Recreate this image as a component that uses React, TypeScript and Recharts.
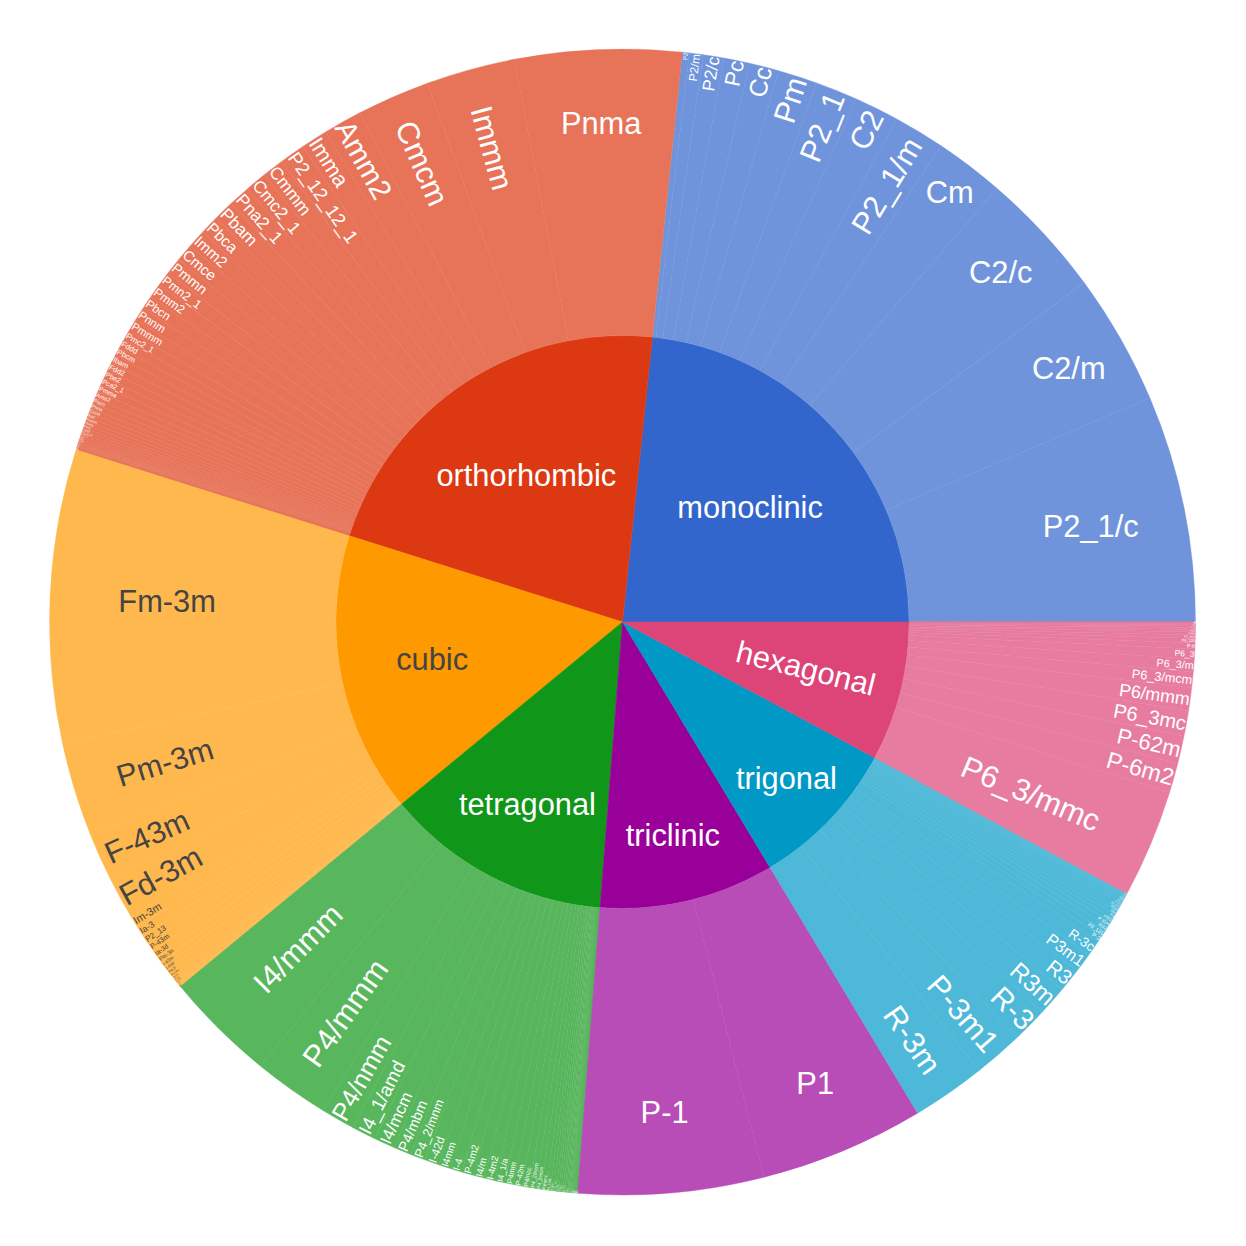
import React from 'react';
import { PieChart, Pie, Cell } from 'recharts';

// ---- crystal systems (inner ring), in drawing order (counter-clockwise from 3 o'clock)
const systems = ['monoclinic', 'orthorhombic', 'cubic', 'tetragonal', 'triclinic', 'trigonal', 'hexagonal'];
const systemColors = ['#3366CC', '#DC3912', '#FF9900', '#109618', '#990099', '#0099C6', '#DD4477'];
const systemTextColors = ['#ffffff', '#ffffff', '#444444', '#ffffff', '#ffffff', '#ffffff', '#ffffff'];

// ---- space groups (outer ring) and their counts
const monoclinicGroups = ['P2_1/c', 'C2/m', 'C2/c', 'Cm', 'P2_1/m', 'C2', 'P2_1', 'Pm', 'Cc', 'Pc', 'P2/c', 'P2/m', 'P2'];
const monoclinicCounts = [2300, 1330, 1290, 700, 520, 450, 430, 400, 300, 260, 210, 140, 70];

const orthorhombicGroups = ['Pnma', 'Immm', 'Cmcm', 'Amm2', 'Imma', 'P2_12_12_1', 'Cmmm', 'Cmc2_1', 'Pna2_1', 'Pbam',
  'Pbca', 'Imm2', 'Cmce', 'Pmmn', 'Pmn2_1', 'Pmm2', 'Pbcn', 'Pnnm', 'Pmmm', 'Pmc2_1',
  'Fddd', 'Pbcm', 'Ibam', 'Fdd2', 'Pba2', 'Pca2_1', 'Pmma', 'Ama2', 'Pccn',
  'Pnna', 'Cccm', 'Iba2', 'Fmmm', 'Pmna', 'Pnn2', 'Cmm2', 'P2_12_12', 'C222_1', 'Ibca',
  'Ccce', 'Cmme', 'Pcca', 'Pccm', 'Pban', 'Pnnn', 'Pma2', 'Pnc2', 'Pcc2', 'Aea2',
  'Aem2', 'P222_1', 'I222', 'I2_12_12_1', 'Fmm2'];
const orthorhombicCounts = [1690, 900, 740, 390, 270, 260, 220, 220, 220, 210,
  190, 185, 180, 170, 150, 145, 140, 135, 130, 100,
  90, 90, 85, 85, 80, 80, 75, 65, 60,
  55, 50, 45, 40, 38, 35, 30, 28, 25, 22,
  20, 18, 15, 13, 12, 10, 8, 7, 6, 5,
  4, 3, 2, 2, 2];

const cubicGroups = ['Fm-3m', 'Pm-3m', 'F-43m', 'Fd-3m', 'Im-3m', 'Ia-3', 'P2_13', 'P-43m', 'Ia-3d', 'Pm-3n',
  'I-43m', 'I-43d', 'Pa-3', 'Pn-3m', 'Fd-3', 'F-43c', 'P4_132', 'Pm-3', 'I2_13', 'P23', 'Fm-3c', 'F23', 'I23'];
const cubicCounts = [2977, 960, 480, 420, 130, 105, 95, 85, 75, 65,
  55, 48, 42, 36, 30, 25, 20, 15, 12, 9, 7, 5, 4];

const tetragonalGroups = ['I4/mmm', 'P4/mmm', 'P4/nmm', 'I4_1/amd', 'I4/mcm', 'P4/mbm', 'P4_2/mnm', 'I-42d', 'I4mm', 'I-4',
  'P-4m2', 'I4/m', 'I-4m2', 'I4_1/a', 'P4mm', 'P-42m',
  'P4/ncc', 'P4_2/ncm', 'P4_2/mcm', 'P4/mnc', 'I4_1md', 'P4bm', 'P-42_1m', 'P4_2/n', 'P4/mcc', 'I4_1/acd',
  'P4_2/mbc', 'P-4', 'P4/nnc', 'P4_2/nmc', 'P4_2/m', 'I4', 'P4_2mc', 'I-42m', 'P4_2/nnm', 'I4cm',
  'P4_2nm', 'P-4b2', 'P4/nbm', 'I422', 'P4', 'P4_12_12', 'P-42_1c', 'P4_32_12', 'P422', 'I4_1cd'];
const tetragonalCounts = [1130, 770, 340, 250, 210, 180, 160, 140, 120, 120,
  120, 115, 110, 100, 90, 85,
  75, 65, 55, 50, 40, 32, 28, 25, 22, 20,
  18, 16, 14, 12, 11, 10, 9, 8, 7, 6,
  6, 5, 5, 4, 4, 3, 3, 3, 2, 2];

const triclinicGroups = ['P-1', 'P1'];
const triclinicCounts = [1880, 1670];

const trigonalGroups = ['R-3m', 'P-3m1', 'R-3', 'R3m', 'R3', 'P3m1', 'R-3c',
  'P-3', 'P3_121', 'R32', 'P-31m', 'P321', 'P3', 'R3c', 'P31m', 'P3_221', 'P-3c1',
  'P3_1', 'P312', 'P-31c', 'P3_2', 'P3c1', 'P31c', 'P3_112', 'P3_212'];
const trigonalCounts = [750, 500, 360, 300, 240, 200, 160,
  65, 60, 55, 50, 45, 42, 38, 35, 32, 28,
  25, 22, 18, 15, 12, 10, 5, 3];

const hexagonalGroups = ['P6_3/mmc', 'P-6m2', 'P-62m', 'P6_3mc', 'P6/mmm', 'P6_3/mcm', 'P6_3/m', 'P6_3',
  'P-6', 'P6_322', 'P6_3cm', 'P-62c', 'P6/m', 'P6', 'P6_122', 'P6mm', 'P6/mcc', 'P6_1', 'P6_222', 'P622',
  'P6_5', 'P-6c2', 'P6cc'];
const hexagonalCounts = [1100, 300, 280, 260, 230, 160, 130, 100,
  60, 45, 35, 30, 25, 20, 15, 12, 8, 6, 5, 3, 3, 2, 1];

const groupsBySystem = [monoclinicGroups, orthorhombicGroups, cubicGroups, tetragonalGroups, triclinicGroups, trigonalGroups, hexagonalGroups];
const countsBySystem = [monoclinicCounts, orthorhombicCounts, cubicCounts, tetragonalCounts, triclinicCounts, trigonalCounts, hexagonalCounts];

const innerData = systems.map((name, i) => ({
  name,
  value: countsBySystem[i].reduce((a, b) => a + b, 0),
  sys: i,
}));
const outerData = systems.flatMap((_, i) =>
  groupsBySystem[i].map((g, j) => ({ name: g, value: countsBySystem[i][j], sys: i }))
);

// leaf colour: the system colour at 70% opacity over white
const LEAF_OPACITY = 0.7;
function leafColor(hex: string) {
  const n = parseInt(hex.slice(1), 16);
  const ch = [(n >> 16) & 255, (n >> 8) & 255, n & 255].map((c) =>
    Math.round(c * LEAF_OPACITY + 255 * (1 - LEAF_OPACITY))
  );
  return '#' + ch.map((c) => c.toString(16).padStart(2, '0')).join('');
}
const leafColors = systemColors.map(leafColor);

// ---- text fitting (plotly-like "auto" inside text orientation)
const BASE_FONT = 30.8;
const MIN_FONT = 1;
const FONT_FAMILY = '"Liberation Sans", Arial, sans-serif';
const TEXTPAD = 3;
let measureCtx: any = null;
function measureText(t: string): number {
  if (!measureCtx && typeof document !== 'undefined') {
    const c = document.createElement('canvas');
    measureCtx = c.getContext('2d');
  }
  if (measureCtx) {
    measureCtx.font = `${BASE_FONT}px ${FONT_FAMILY}`;
    return measureCtx.measureText(t).width;
  }
  return t.length * BASE_FONT * 0.55;
}

function calcMaxHalfSize(a: number, halfAngle: number, r: number, ring: number) {
  const q = a + 1 / (2 * Math.tan(halfAngle));
  return r * Math.min(1 / (Math.sqrt(q * q + 0.5) + q), ring / (Math.sqrt(a * a + ring / 2) + a));
}
function calcRCenter(a: number, b: number) {
  return Math.cos(b) - a * b;
}
function lineRotation(deg: number) {
  let r = ((-deg % 180) + 180) % 180;
  if (r >= 90) r -= 180;
  return r;
}

function renderLabel(props: any) {
  const { cx, cy, innerRadius, outerRadius, startAngle, endAngle, name, index } = props;
  const sys = props.sys ?? (props.payload && props.payload.sys) ?? 0;
  const label = String(name);
  const w = measureText(label);
  const h = BASE_FONT * 1.117;
  const span = Math.abs(endAngle - startAngle) * Math.PI / 180;
  const halfAngle = Math.max(1e-6, Math.min(span, Math.PI) / 2);
  const mid = (startAngle + endAngle) / 2;
  const r = outerRadius;
  const ring = 1 - innerRadius / outerRadius;
  const rInscribed = Math.max(0, Math.min(1 / (1 + 1 / Math.sin(halfAngle)), ring / 2));
  const diag = Math.sqrt(w * w + h * h);
  const hor = { scale: (rInscribed * r * 2) / diag, rCenter: 1 - rInscribed, rotate: 0 };
  let chosen = hor;
  if (hor.scale < 1) {
    const rp = Math.max(1e-6, r - 2 * TEXTPAD);
    let a = w / h;
    let s = calcMaxHalfSize(a, halfAngle, rp, ring);
    const rad = { scale: (2 * s) / h, rCenter: calcRCenter(a, s / rp), rotate: lineRotation(mid) };
    a = h / w;
    s = calcMaxHalfSize(a, halfAngle, rp, ring);
    const tan = { scale: (2 * s) / w, rCenter: calcRCenter(a, s / rp), rotate: lineRotation(mid + 90) };
    const all = [hor, rad, tan];
    let best = 0;
    let maxS = 0;
    all.forEach((t, k) => {
      if (t.scale > maxS) {
        maxS = t.scale;
        best = k;
      }
    });
    chosen = all[best];
  }
  const scale = Math.min(1, chosen.scale);
  const R = chosen.rCenter * r;
  const rad = (mid * Math.PI) / 180;
  const x = cx + R * Math.cos(rad);
  const y = cy - R * Math.sin(rad);
  return (
    <text
      key={`lbl-${index}-${label}`}
      x={0}
      y={0}
      dy="0.3465em"
      transform={`translate(${x.toFixed(2)},${y.toFixed(2)}) rotate(${chosen.rotate.toFixed(2)})`}
      textAnchor="middle"
      fontFamily={FONT_FAMILY}
      fontSize={Math.max(MIN_FONT, BASE_FONT * scale)}
      fill={systemTextColors[sys]}
    >
      {label}
    </text>
  );
}

const CX = 622.5;
const CY = 622;
const R_OUT = 573;
const R_MID = 286.5;

export default function App() {
  return (
    <div style={{ position: 'absolute', left: 0, top: 0, width: 1246, height: 1246, background: '#ffffff' }}>
      <PieChart width={1246} height={1246} margin={{ top: 0, right: 0, bottom: 0, left: 0 }}>
        <Pie
          data={innerData}
          dataKey="value"
          nameKey="name"
          cx={CX}
          cy={CY}
          innerRadius={0}
          outerRadius={R_MID}
          startAngle={0}
          endAngle={360}
          stroke="none"
          isAnimationActive={false}
          labelLine={false}
          label={renderLabel}
        >
          {innerData.map((d, i) => (
            <Cell key={`in-${i}`} fill={systemColors[d.sys]} stroke={systemColors[d.sys]} strokeWidth={0.5} />
          ))}
        </Pie>
        <Pie
          data={outerData}
          dataKey="value"
          nameKey="name"
          cx={CX}
          cy={CY}
          innerRadius={R_MID}
          outerRadius={R_OUT}
          startAngle={0}
          endAngle={360}
          stroke="none"
          isAnimationActive={false}
          labelLine={false}
          label={renderLabel}
        >
          {outerData.map((d, i) => (
            <Cell key={`out-${i}`} fill={leafColors[d.sys]} stroke={leafColors[d.sys]} strokeWidth={0.4} />
          ))}
        </Pie>
      </PieChart>
    </div>
  );
}
